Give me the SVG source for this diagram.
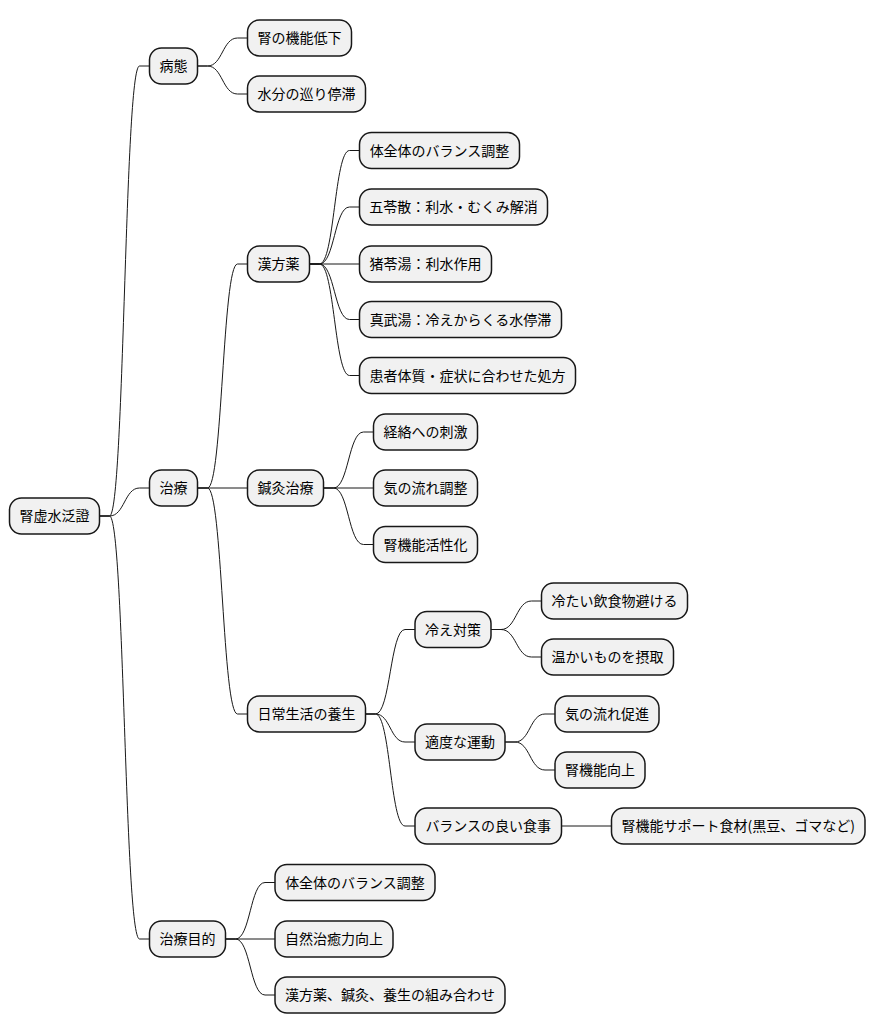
<svg xmlns="http://www.w3.org/2000/svg" width="877" height="1034" viewBox="0 0 877 1034">
<style>
.n rect{fill:#F1F1F1;stroke:#181818;stroke-width:1.5}
.n text{font-family:"Noto Sans CJK JP","Noto Sans",sans-serif;font-size:14px;fill:#000;text-anchor:middle}
#edges path{fill:none;stroke:#181818;stroke-width:1}
</style>
<rect width="877" height="1034" fill="#FFFFFF"/>
<g id="edges">
<path d="M99.5,516 L109.5,516 C124.5,516 124.5,66 139.5,66 L149.5,66"/>
<path d="M99.5,516 L109.5,516 C124.5,516 124.5,488 139.5,488 L149.5,488"/>
<path d="M99.5,516 L109.5,516 C124.5,516 124.5,939 139.5,939 L149.5,939"/>
<path d="M197.5,66 L207.5,66 C222.5,66 222.5,38 237.5,38 L247.5,38"/>
<path d="M197.5,66 L207.5,66 C222.5,66 222.5,94 237.5,94 L247.5,94"/>
<path d="M197.5,488 L207.5,488 C222.5,488 222.5,264 237.5,264 L247.5,264"/>
<path d="M197.5,488 L247.5,488"/>
<path d="M197.5,488 L207.5,488 C222.5,488 222.5,714 237.5,714 L247.5,714"/>
<path d="M225.5,939 L235.5,939 C250.3,939 250.3,882.5 265,882.5 L275,882.5"/>
<path d="M225.5,939 L275,939"/>
<path d="M225.5,939 L235.5,939 C250.3,939 250.3,995 265,995 L275,995"/>
<path d="M309.5,264 L319.5,264 C334.5,264 334.5,150.5 349.5,150.5 L359.5,150.5"/>
<path d="M309.5,264 L319.5,264 C334.5,264 334.5,207 349.5,207 L359.5,207"/>
<path d="M309.5,264 L359.5,264"/>
<path d="M309.5,264 L319.5,264 C334.5,264 334.5,319.5 349.5,319.5 L359.5,319.5"/>
<path d="M309.5,264 L319.5,264 C334.5,264 334.5,375.5 349.5,375.5 L359.5,375.5"/>
<path d="M323.5,488 L333.5,488 C348.5,488 348.5,432 363.5,432 L373.5,432"/>
<path d="M323.5,488 L373.5,488"/>
<path d="M323.5,488 L333.5,488 C348.5,488 348.5,544.5 363.5,544.5 L373.5,544.5"/>
<path d="M365.5,714 L375.5,714 C390.3,714 390.3,629.5 405,629.5 L415,629.5"/>
<path d="M365.5,714 L375.5,714 C390.3,714 390.3,742 405,742 L415,742"/>
<path d="M365.5,714 L375.5,714 C390.3,714 390.3,826 405,826 L415,826"/>
<path d="M491,629.5 L501,629.5 C516.3,629.5 516.3,601 531.5,601 L541.5,601"/>
<path d="M491,629.5 L501,629.5 C516.3,629.5 516.3,657 531.5,657 L541.5,657"/>
<path d="M505,742 L515,742 C530,742 530,714 545,714 L555,714"/>
<path d="M505,742 L515,742 C530,742 530,770 545,770 L555,770"/>
<path d="M561.5,826 L611.5,826"/>
</g>
<g id="root" class="n"><rect x="9.5" y="498" width="90" height="36" rx="12"/><text x="54.5" y="521">腎虚水泛證</text></g>
<g id="byotai" class="n"><rect x="149.5" y="48" width="48" height="36" rx="12"/><text x="173.5" y="71">病態</text></g>
<g id="jin-kino" class="n"><rect x="247.5" y="20" width="104" height="36" rx="12"/><text x="299.5" y="43">腎の機能低下</text></g>
<g id="suibun" class="n"><rect x="247.5" y="76" width="118" height="36" rx="12"/><text x="306.5" y="99">水分の巡り停滞</text></g>
<g id="chiryo" class="n"><rect x="149.5" y="470" width="48" height="36" rx="12"/><text x="173.5" y="493">治療</text></g>
<g id="kampo" class="n"><rect x="247.5" y="246" width="62" height="36" rx="12"/><text x="278.5" y="269">漢方薬</text></g>
<g id="kampo1" class="n"><rect x="359.5" y="132.5" width="160" height="36" rx="12"/><text x="439.5" y="155.5">体全体のバランス調整</text></g>
<g id="kampo2" class="n"><rect x="359.5" y="189" width="188" height="36" rx="12"/><text x="453.5" y="212">五苓散：利水・むくみ解消</text></g>
<g id="kampo3" class="n"><rect x="359.5" y="246" width="132" height="36" rx="12"/><text x="425.5" y="269">猪苓湯：利水作用</text></g>
<g id="kampo4" class="n"><rect x="359.5" y="301.5" width="202" height="36" rx="12"/><text x="460.5" y="324.5">真武湯：冷えからくる水停滞</text></g>
<g id="kampo5" class="n"><rect x="359.5" y="357.5" width="216" height="36" rx="12"/><text x="467.5" y="380.5">患者体質・症状に合わせた処方</text></g>
<g id="shinkyu" class="n"><rect x="247.5" y="470" width="76" height="36" rx="12"/><text x="285.5" y="493">鍼灸治療</text></g>
<g id="shinkyu1" class="n"><rect x="373.5" y="414" width="104" height="36" rx="12"/><text x="425.5" y="437">経絡への刺激</text></g>
<g id="shinkyu2" class="n"><rect x="373.5" y="470" width="104" height="36" rx="12"/><text x="425.5" y="493">気の流れ調整</text></g>
<g id="shinkyu3" class="n"><rect x="373.5" y="526.5" width="104" height="36" rx="12"/><text x="425.5" y="549.5">腎機能活性化</text></g>
<g id="yojo" class="n"><rect x="247.5" y="696" width="118" height="36" rx="12"/><text x="306.5" y="719">日常生活の養生</text></g>
<g id="hie" class="n"><rect x="415" y="611.5" width="76" height="36" rx="12"/><text x="453" y="634.5">冷え対策</text></g>
<g id="hie1" class="n"><rect x="541.5" y="583" width="146" height="36" rx="12"/><text x="614.5" y="606">冷たい飲食物避ける</text></g>
<g id="hie2" class="n"><rect x="541.5" y="639" width="132" height="36" rx="12"/><text x="607.5" y="662">温かいものを摂取</text></g>
<g id="undo" class="n"><rect x="415" y="724" width="90" height="36" rx="12"/><text x="460" y="747">適度な運動</text></g>
<g id="undo1" class="n"><rect x="555" y="696" width="104" height="36" rx="12"/><text x="607" y="719">気の流れ促進</text></g>
<g id="undo2" class="n"><rect x="555" y="752" width="90" height="36" rx="12"/><text x="600" y="775">腎機能向上</text></g>
<g id="shokuji" class="n"><rect x="415" y="808" width="146.5" height="36" rx="12"/><text x="488.25" y="831">バランスの良い食事</text></g>
<g id="shokuji1" class="n"><rect x="611.5" y="808" width="253.5" height="36" rx="12"/><text x="738.25" y="831">腎機能サポート食材(黒豆、ゴマなど)</text></g>
<g id="mokuteki" class="n"><rect x="149.5" y="921" width="76" height="36" rx="12"/><text x="187.5" y="944">治療目的</text></g>
<g id="mokuteki1" class="n"><rect x="275" y="864.5" width="160" height="36" rx="12"/><text x="355" y="887.5">体全体のバランス調整</text></g>
<g id="mokuteki2" class="n"><rect x="275" y="921" width="118" height="36" rx="12"/><text x="334" y="944">自然治癒力向上</text></g>
<g id="mokuteki3" class="n"><rect x="275" y="977" width="230" height="36" rx="12"/><text x="390" y="1000">漢方薬、鍼灸、養生の組み合わせ</text></g>
</svg>
